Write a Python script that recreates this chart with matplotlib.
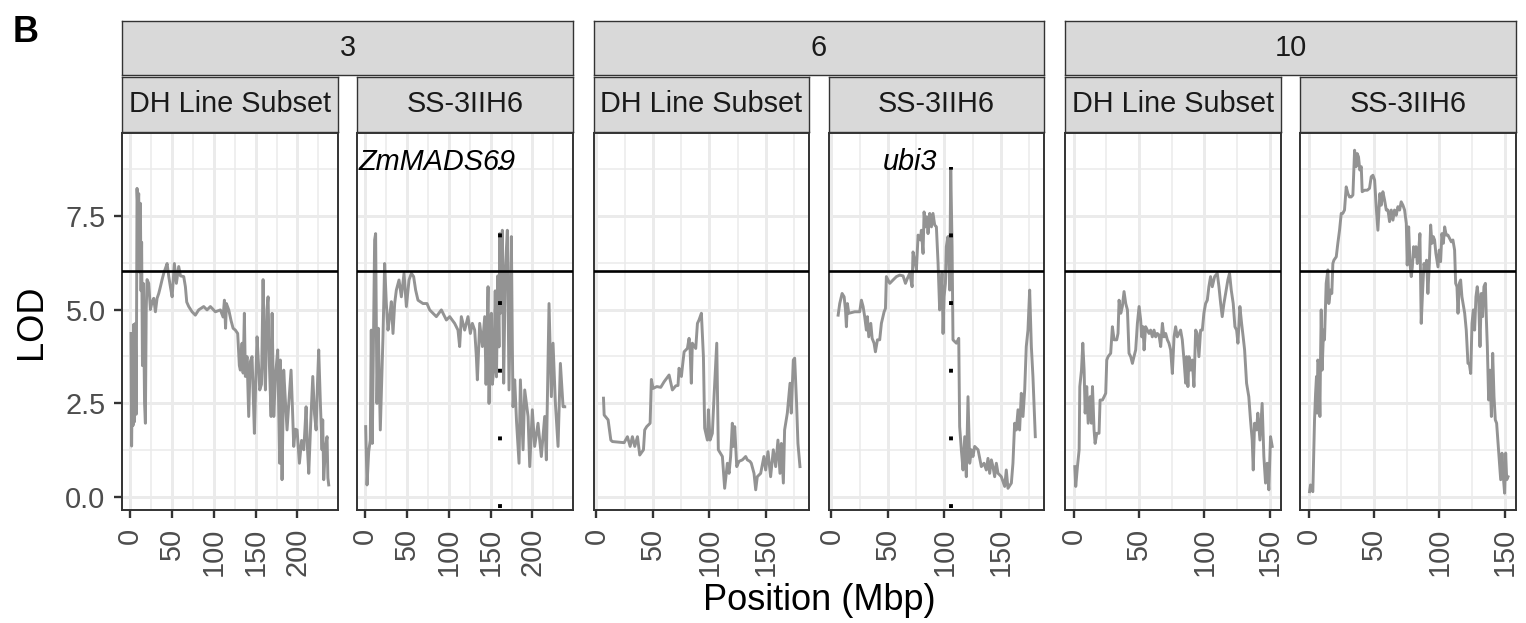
import matplotlib
matplotlib.use('Agg')
import matplotlib.pyplot as plt

plt.rcParams['font.family'] = ['Liberation Sans', 'DejaVu Sans']

# ---------------- data ----------------
chromosomes = ['3', '6', '10']
populations = ['DH Line Subset', 'SS-3IIH6']

chr3_dh_pos = [0.8, 1.5, 2.5, 3.2, 4.0, 5.0, 6.0, 7.0, 8.0, 9.0,
               10.0, 11.0, 12.0, 12.8, 13.5, 14.5, 15.5, 17.0, 18.0, 19.0,
               20.0, 22.0, 24.0, 26.0, 28.0, 30.0, 32.0, 34.0, 36.0, 38.0,
               40.0, 42.0, 44.0, 46.0, 48.0, 50.0, 52.7, 55.1, 57.9, 60.0,
               63.9, 65.9, 67.5, 69.9, 73.9, 77.8, 81.8, 87.8, 91.8, 95.8,
               101.8, 107.8, 111.0, 112.6, 114.0, 115.0, 117.8, 120.6, 123.0, 125.7,
               128.5, 130.5, 131.7, 133.7, 135.0, 136.5, 137.7, 139.7, 141.7, 143.5,
               145.7, 148.5, 150.0, 151.7, 153.5, 154.9, 157.0, 158.9, 160.5, 161.7,
               163.5, 164.9, 166.5, 168.5, 169.7, 171.7, 173.7, 176.4, 177.5, 178.8,
               179.6, 181.0, 181.6, 183.6, 185.5, 187.6, 190.0, 192.4, 194.0, 195.6,
               197.5, 199.6, 202.4, 205.0, 207.6, 209.0, 210.4, 212.0, 213.6, 216.0,
               218.4, 220.5, 222.4, 224.0, 225.5, 227.5, 229.5, 230.3, 231.5, 233.5,
               235.5, 236.5, 237.5]
chr3_dh_lod = [4.36, 1.35, 3.5, 1.9, 4.6, 2.0, 4.63, 2.2, 8.24, 7.6,
               8.1, 6.0, 7.84, 5.5, 6.8, 3.5, 5.7, 2.5, 1.96, 5.0,
               5.8, 5.7, 5.0, 5.2, 5.3, 4.94, 5.3, 5.43, 5.61, 5.8,
               5.97, 6.1, 6.23, 5.88, 5.6, 5.34, 6.23, 5.7, 6.15, 5.9,
               5.88, 5.61, 5.2, 5.08, 4.94, 4.85, 4.99, 5.08, 4.99, 5.08,
               4.94, 4.99, 4.8, 5.25, 4.5, 5.16, 4.99, 4.7, 4.5, 4.45,
               4.36, 3.5, 3.38, 4.10, 3.3, 4.9, 3.21, 3.74, 2.14, 3.6,
               3.74, 1.69, 3.0, 4.27, 3.5, 2.85, 3.0, 5.8, 3.6, 2.85,
               5.0, 5.34, 3.5, 2.14, 4.90, 2.14, 3.21, 3.92, 2.5, 0.89,
               3.65, 2.0, 0.45, 3.38, 2.6, 1.78, 2.6, 3.38, 2.4, 1.34,
               1.8, 1.78, 0.89, 1.5, 1.25, 1.8, 2.40, 1.3, 0.62, 2.0,
               3.21, 2.2, 1.78, 3.0, 3.92, 2.5, 1.25, 2.05, 0.45, 1.3,
               1.60, 0.5, 0.31]

chr3_ss_pos = [0.4, 2.0, 4.0, 5.9, 7.1, 8.3, 11.1, 12.3, 13.9, 15.5,
               17.9, 21.1, 23.1, 25.1, 27.1, 29.1, 31.1, 33.1, 35.1, 37.1,
               40.3, 43.1, 46.3, 49.1, 52.3, 55.1, 57.8, 60.2, 63.0, 69.0,
               73.8, 77.0, 85.0, 91.0, 97.0, 101.0, 106.9, 110.9, 112.9, 114.9,
               118.9, 122.9, 125.7, 128.1, 130.9, 132.9, 134.1, 136.9, 140.1, 142.9,
               144.5, 146.9, 148.1, 149.5, 150.9, 152.0, 153.7, 155.5, 157.0, 158.5,
               160.0, 160.8, 161.6, 164.0, 165.6, 167.6, 170.0, 172.0, 174.8, 176.0,
               176.8, 178.8, 181.0, 184.0, 185.6, 188.8, 190.8, 194.8, 196.8, 199.9,
               202.7, 206.7, 210.7, 214.7, 216.7, 219.9, 222.7, 224.7, 227.5, 230.7,
               233.5, 236.7, 238.7]
chr3_ss_lod = [1.87, 0.31, 1.2, 1.51, 4.45, 1.42, 6.86, 7.03, 2.49, 4.5,
               1.78, 4.27, 6.23, 5.16, 4.45, 4.81, 5.21, 4.36, 5.16, 5.52,
               5.79, 5.34, 5.97, 5.08, 5.79, 5.97, 5.88, 5.52, 5.25, 5.16,
               5.16, 4.99, 4.81, 4.99, 4.72, 4.81, 4.63, 4.45, 4.01, 4.81,
               4.45, 4.81, 4.36, 4.63, 4.45, 3.74, 3.12, 4.63, 4.01, 4.81,
               3.0, 5.61, 2.49, 4.5, 4.90, 3.0, 3.38, 5.5, 3.2, 5.9,
               4.0, 7.03, 4.90, 7.12, 3.03, 6.06, 7.12, 2.85, 6.95, 4.01,
               2.40, 3.12, 2.0, 0.89, 3.12, 1.25, 2.85, 2.14, 0.80, 2.32,
               1.34, 1.96, 1.07, 2.14, 0.98, 5.16, 2.67, 4.10, 2.5, 1.34,
               3.56, 2.40, 2.40]

chr6_dh_pos = [6.2, 6.8, 10.3, 12.7, 14.1, 24.5, 27.4, 29.8, 31.8, 33.9,
               36.3, 38.3, 41.6, 42.7, 44.5, 47.5, 48.6, 50.1, 53.4, 56.9,
               59.9, 64.3, 67.2, 70.2, 72.2, 73.1, 75.2, 76.1, 77.6, 80.5,
               82.0, 82.9, 84.0, 84.9, 87.9, 89.4, 90.8, 92.9, 94.7, 95.8,
               98.2, 99.1, 100.6, 102.6, 104.1, 106.5, 107.9, 111.5, 113.5, 115.9,
               117.4, 118.8, 120.3, 121.2, 122.4, 124.2, 126.2, 129.2, 132.1, 133.6,
               135.9, 137.1, 139.5, 141.0, 142.4, 145.4, 148.3, 149.8, 151.9, 154.2,
               156.6, 158.7, 160.7, 162.5, 163.7, 165.5, 166.6, 169.0, 171.4, 172.5,
               174.3, 175.5, 177.2, 178.4, 180.2]
chr6_dh_lod = [2.63, 2.18, 2.05, 1.51, 1.47, 1.44, 1.60, 1.34, 1.60, 1.34,
               1.60, 1.11, 1.25, 1.78, 1.87, 1.96, 3.13, 2.89, 2.94, 2.92,
               3.07, 3.25, 2.85, 2.96, 2.97, 3.43, 3.21, 3.47, 3.87, 3.96,
               4.23, 3.92, 3.03, 4.10, 3.96, 4.63, 4.72, 4.90, 3.74, 1.83,
               1.51, 2.32, 1.51, 1.69, 2.67, 4.10, 1.25, 1.07, 0.22, 0.89,
               0.62, 1.07, 1.96, 1.34, 1.87, 0.80, 0.94, 0.98, 1.07, 0.98,
               0.94, 0.89, 0.62, 0.18, 0.53, 0.62, 1.07, 0.71, 1.20, 0.53,
               1.25, 0.80, 1.51, 0.62, 1.42, 0.36, 1.78, 2.23, 3.03, 2.23,
               3.65, 3.70, 2.49, 1.42, 0.80]

chr6_ss_pos = [5.9, 7.3, 9.4, 11.2, 12.4, 13.2, 14.1, 15.3, 20.6, 25.0,
               26.5, 28.0, 29.4, 30.9, 31.8, 33.0, 34.8, 36.0, 37.7, 38.9,
               40.7, 42.7, 44.2, 46.6, 47.8, 48.6, 51.6, 54.5, 57.5, 60.4,
               63.4, 65.5, 67.2, 69.3, 71.4, 72.2, 73.7, 75.2, 76.7, 78.7,
               79.6, 81.1, 82.0, 83.2, 84.3, 85.5, 87.0, 88.5, 89.9, 91.4,
               92.9, 94.4, 95.8, 96.7, 97.9, 98.8, 99.7, 100.9, 101.7, 103.2,
               104.7, 105.6, 106.8, 107.6, 110.6, 112.7, 113.5, 115.0, 116.5, 118.0,
               119.4, 120.9, 122.4, 123.9, 125.3, 126.8, 129.8, 132.7, 135.1, 137.1,
               138.6, 140.1, 141.6, 143.0, 144.5, 146.0, 147.5, 148.9, 150.4, 153.4,
               154.8, 156.3, 159.3, 160.7, 162.2, 163.7, 165.2, 166.6, 168.1, 169.6,
               171.1, 172.5, 174.0, 175.5, 177.0, 178.4, 180.5]
chr6_ss_lod = [4.85, 5.16, 5.43, 5.34, 4.99, 4.54, 5.16, 4.90, 4.94, 4.94,
               5.25, 5.08, 4.81, 4.45, 4.81, 4.27, 4.63, 4.23, 4.10, 3.87,
               4.19, 4.19, 4.63, 4.94, 5.03, 5.88, 5.70, 5.79, 5.88, 5.92,
               5.90, 5.70, 5.83, 5.97, 5.61, 6.54, 6.32, 6.06, 6.99, 6.86,
               7.12, 6.50, 7.61, 7.21, 7.48, 7.03, 7.57, 7.21, 7.57, 7.26,
               7.21, 6.23, 4.99, 5.16, 5.97, 4.36, 5.34, 5.70, 6.68, 6.95,
               5.52, 8.77, 6.68, 4.19, 4.10, 4.23, 1.87, 1.25, 0.71, 1.60,
               0.53, 2.67, 0.89, 1.25, 1.07, 1.34, 1.25, 0.80, 0.89, 0.71,
               1.02, 0.62, 0.98, 0.80, 0.53, 0.89, 0.62, 0.58, 0.53, 0.27,
               0.71, 0.22, 0.36, 0.89, 1.96, 1.78, 2.32, 1.78, 2.76, 2.14,
               2.85, 4.01, 4.45, 5.52, 4.01, 3.21, 1.60]

chr10_dh_pos = [1.0, 1.7, 3.0, 4.3, 4.8, 6.1, 7.1, 8.1, 8.9, 10.1,
                11.2, 12.7, 13.7, 14.5, 15.7, 16.5, 17.8, 19.5, 20.3, 22.1,
                23.4, 24.6, 25.4, 26.4, 28.4, 29.7, 31.0, 33.0, 34.0, 34.8,
                36.1, 37.3, 38.6, 39.9, 41.2, 42.4, 43.7, 45.0, 46.2, 47.5,
                48.8, 50.1, 51.3, 52.1, 53.1, 53.9, 55.1, 56.4, 57.7, 58.9,
                60.2, 61.5, 62.8, 64.0, 65.3, 66.6, 67.9, 69.1, 70.4, 71.7,
                72.9, 74.2, 75.5, 76.8, 78.0, 79.3, 80.6, 81.8, 83.1, 84.4,
                85.7, 86.4, 87.4, 88.2, 89.5, 90.7, 92.0, 93.3, 94.5, 95.8,
                97.1, 98.4, 99.6, 100.9, 102.2, 103.4, 104.7, 106.0, 107.8, 109.8,
                111.1, 112.4, 113.6, 114.9, 116.2, 117.9, 119.2, 120.5, 122.0, 123.3,
                124.6, 125.6, 127.1, 128.4, 129.6, 130.7, 132.2, 133.9, 135.2, 136.5,
                137.3, 138.3, 139.8, 140.8, 142.4, 144.1, 145.4, 146.7, 147.9, 149.2,
                150.5, 151.8]
chr10_dh_lod = [0.80, 0.27, 0.80, 1.25, 2.94, 3.38, 4.10, 3.38, 2.23, 2.94,
                1.96, 2.67, 1.96, 2.94, 1.78, 1.42, 1.69, 1.69, 2.58, 2.58,
                2.67, 2.76, 3.65, 3.74, 3.83, 4.54, 4.19, 4.19, 4.36, 5.25,
                4.90, 5.08, 5.48, 5.16, 4.99, 3.83, 3.74, 3.56, 3.74, 3.92,
                4.63, 5.08, 4.72, 4.27, 4.54, 3.92, 4.54, 4.45, 4.36, 4.45,
                4.27, 4.45, 4.27, 4.36, 4.32, 4.01, 4.63, 4.27, 4.36, 4.19,
                4.10, 3.92, 3.29, 4.27, 4.54, 4.27, 4.36, 4.45, 4.19, 3.65,
                3.03, 3.74, 2.94, 3.74, 3.38, 3.65, 2.94, 4.45, 4.36, 3.74,
                4.45, 4.45, 4.90, 5.16, 5.25, 5.61, 5.88, 5.61, 5.88, 5.97,
                5.61, 5.16, 4.81, 5.16, 5.43, 5.79, 5.97, 5.52, 5.16, 4.54,
                4.45, 4.10, 5.08, 4.63, 4.27, 3.92, 3.03, 2.67, 2.05, 1.51,
                0.71, 1.96, 1.78, 2.23, 1.51, 2.49, 1.07, 0.36, 0.89, 0.18,
                1.60, 1.34]

chr10_ss_pos = [0.8, 1.5, 2.5, 3.3, 4.1, 4.6, 5.4, 6.1, 6.6, 7.1,
                7.9, 8.7, 9.2, 9.7, 10.4, 11.5, 12.2, 13.5, 14.8, 15.5,
                16.8, 17.8, 18.6, 19.4, 21.2, 22.4, 23.7, 25.0, 26.2, 27.5,
                28.8, 30.1, 31.3, 32.6, 33.9, 35.2, 36.4, 37.2, 38.2, 39.2,
                40.3, 41.0, 42.8, 44.9, 46.6, 47.9, 49.2, 50.5, 51.7, 53.0,
                53.8, 54.5, 55.6, 56.8, 58.1, 59.4, 60.7, 61.9, 63.2, 64.5,
                65.7, 67.0, 68.3, 69.6, 70.8, 72.1, 73.4, 74.7, 75.4, 76.5,
                77.5, 78.5, 79.3, 80.3, 81.0, 82.1, 83.1, 84.1, 85.1, 86.1,
                87.2, 88.2, 89.2, 90.2, 91.2, 92.3, 93.3, 94.3, 95.3, 96.3,
                97.3, 98.9, 99.9, 100.9, 101.9, 103.0, 104.0, 105.2, 106.5, 107.8,
                109.1, 110.3, 111.6, 112.4, 113.4, 114.2, 115.2, 116.2, 117.2, 119.3,
                120.5, 121.8, 122.8, 123.9, 124.9, 125.9, 126.9, 127.9, 128.9, 130.0,
                131.0, 132.0, 133.0, 134.0, 135.1, 135.8, 136.6, 137.6, 138.6, 139.7,
                140.7, 141.7, 142.7, 143.7, 144.8, 145.8, 146.8, 147.8, 148.8, 149.8,
                150.6, 151.4, 152.4]
chr10_ss_lod = [0.13, 0.31, 0.18, 0.13, 1.25, 2.05, 2.76, 3.21, 2.23, 3.65,
                3.56, 2.14, 3.74, 4.99, 3.38, 4.45, 4.19, 5.70, 6.06, 5.16,
                5.52, 5.43, 6.23, 6.32, 6.41, 6.77, 7.12, 7.57, 7.57, 7.66,
                8.28, 8.10, 8.01, 8.01, 8.06, 9.26, 8.82, 9.17, 9.08, 8.73,
                8.82, 8.15, 8.19, 8.19, 8.24, 8.55, 8.59, 8.46, 7.75, 7.12,
                7.66, 8.10, 7.79, 8.15, 7.93, 7.66, 7.66, 7.35, 7.66, 7.39,
                7.66, 7.52, 7.75, 7.66, 7.88, 7.79, 7.66, 7.30, 6.19, 7.21,
                6.23, 5.88, 6.14, 6.68, 6.41, 6.68, 6.23, 6.54, 7.03, 4.63,
                5.52, 6.23, 6.06, 6.32, 5.43, 6.23, 7.26, 6.77, 6.95, 6.86,
                6.50, 6.14, 6.59, 6.28, 7.03, 6.77, 7.21, 6.99, 6.99, 6.90,
                6.81, 6.86, 6.59, 5.70, 5.61, 4.90, 5.70, 5.79, 5.34, 4.90,
                4.45, 3.56, 3.56, 3.29, 4.63, 4.99, 4.45, 5.34, 5.61, 5.25,
                4.01, 5.43, 4.81, 5.61, 5.70, 4.81, 4.01, 2.58, 3.38, 2.14,
                3.83, 2.67, 2.05, 1.96, 1.42, 0.89, 0.45, 1.16, 0.53, 0.09,
                1.16, 0.45, 0.53]

profiles = {
    ('3', 'DH Line Subset'): (chr3_dh_pos, chr3_dh_lod),
    ('3', 'SS-3IIH6'): (chr3_ss_pos, chr3_ss_lod),
    ('6', 'DH Line Subset'): (chr6_dh_pos, chr6_dh_lod),
    ('6', 'SS-3IIH6'): (chr6_ss_pos, chr6_ss_lod),
    ('10', 'DH Line Subset'): (chr10_dh_pos, chr10_dh_lod),
    ('10', 'SS-3IIH6'): (chr10_ss_pos, chr10_ss_lod),
}
for k, (p, l) in profiles.items():
    assert len(p) == len(l), (k, len(p), len(l))

lod_threshold = 6.03
gene_names = ['ZmMADS69', 'ubi3']
gene_chrom = ['3', '6']
gene_pop = ['SS-3IIH6', 'SS-3IIH6']
gene_pos = [161.5, 105.8]
gene_dot_range = (-0.31, 8.8)

# ---------------- layout / style ----------------
W, H = 1526, 623
fig = plt.figure(figsize=(W / 100, H / 100), dpi=100)

def add_ax(x0, y0, x1, y1):
    return fig.add_axes([x0 / W, 1 - y1 / H, (x1 - x0) / W, (y1 - y0) / H])

panel_x = [(122, 338), (357, 573), (594, 809), (829, 1044), (1065, 1281), (1300, 1516)]
panel_y = (133, 510)
strip_outer_y = (21, 75)
strip_inner_y = (77, 132)

xlims = {'3': (-10.0, 248.6), '6': (-2.2, 188.2), '10': (-6.5, 158.5)}
xmajor = {'3': [0, 50, 100, 150, 200], '6': [0, 50, 100, 150], '10': [0, 50, 100, 150]}
xminor = {'3': [25, 75, 125, 175, 225], '6': [25, 75, 125, 175], '10': [25, 75, 125]}
ylim = (-0.36, 9.72)
ymajor = [0, 2.5, 5.0, 7.5]
yminor = [1.25, 3.75, 6.25, 8.75]

border_col = '#333333'
strip_fill = '#D9D9D9'
grid_col = '#EBEBEB'
tick_text_col = '#4D4D4D'
small_fs = 20.8
title_fs = 26

def strip(x0, y0, x1, y1, label):
    sa = add_ax(x0, y0, x1, y1)
    sa.set_facecolor(strip_fill)
    sa.set_xticks([]); sa.set_yticks([])
    for s in sa.spines.values():
        s.set_color(border_col); s.set_linewidth(1.0)
    sa.text(0.5, 0.5, label, transform=sa.transAxes, ha='center', va='center',
            fontsize=small_fs, color='#1A1A1A')

idx = 0
for ci, chrom in enumerate(chromosomes):
    xl0 = panel_x[2 * ci][0]
    xr1 = panel_x[2 * ci + 1][1]
    strip(xl0, strip_outer_y[0], xr1, strip_outer_y[1], chrom)
    for pi, pop in enumerate(populations):
        x0, x1 = panel_x[idx]
        strip(x0, strip_inner_y[0], x1, strip_inner_y[1], pop)
        ax = add_ax(x0, panel_y[0], x1, panel_y[1])
        ax.set_xlim(*xlims[chrom])
        ax.set_ylim(*ylim)
        ax.set_xticks(xmajor[chrom])
        ax.set_xticks(xminor[chrom], minor=True)
        ax.set_yticks(ymajor)
        ax.set_yticks(yminor, minor=True)
        ax.grid(which='major', color=grid_col, lw=2.1, zorder=0)
        ax.grid(which='minor', color=grid_col, lw=1.1, zorder=0)
        ax.set_axisbelow(True)
        ax.tick_params(which='minor', length=0)
        ax.tick_params(which='major', length=5.8, width=1.7, color=border_col,
                       labelsize=small_fs, labelcolor=tick_text_col)
        ax.tick_params(axis='x', pad=7)
        ax.tick_params(axis='y', pad=6)
        ax.set_xticklabels([str(v) for v in xmajor[chrom]], rotation=90,
                           ha='center', va='top')
        if idx == 0:
            ax.set_yticklabels(['0.0', '2.5', '5.0', '7.5'])
        else:
            ax.tick_params(axis='y', length=0, labelleft=False)
        for s in ax.spines.values():
            s.set_color(border_col); s.set_linewidth(1.4)

        pos, lod = profiles[(chrom, pop)]
        ax.plot(pos, lod, color='#939393', lw=2.1, zorder=2, solid_joinstyle='round')
        ax.axhline(lod_threshold, color='black', lw=1.9, zorder=3)

        for g, gc, gp, gx in zip(gene_names, gene_chrom, gene_pop, gene_pos):
            if gc == chrom and gp == pop:
                ax.plot([gx, gx], list(gene_dot_range), color='black', lw=2.8,
                        linestyle=(0, (1, 16.4)), dash_capstyle='butt', zorder=4)
                lab_x = {'ZmMADS69': 180.0, 'ubi3': 94.0}[g]
                ax.text(lab_x, 8.95, g, ha='right', va='center', fontsize=small_fs,
                        style='italic', color='black', zorder=5)
        idx += 1

fig.text(13 / W, 1 - 32 / H, 'B', fontsize=26, fontweight='bold', ha='left', va='center')
fig.text(32 / W, 1 - 321.5 / H, 'LOD', rotation=90, fontsize=title_fs, ha='center', va='center')
fig.text(819 / W, 1 - 601 / H, 'Position (Mbp)', fontsize=title_fs, ha='center', va='center')

fig.savefig('out.png', dpi=100)
